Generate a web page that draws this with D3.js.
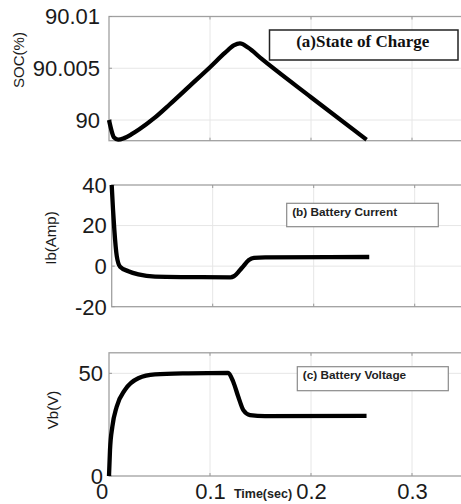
<!DOCTYPE html>
<html>
<head>
<meta charset="utf-8">
<script src="https://cdn.jsdelivr.net/npm/d3@7/dist/d3.min.js"></script>
<style>
  html, body { margin: 0; padding: 0; background: #fff; }
  svg { display: block; }
  text { font-family: "Liberation Sans", Arial, Helvetica, sans-serif; }
</style>
</head>
<body>
<script>
// ---------- data ----------
const xTicks = [0, 0.1, 0.2, 0.3];
const xTickLabels = ["0", "0.1", "0.2", "0.3"];

const socTicks = [90, 90.005, 90.01];
const socTickLabels = ["90", "90.005", "90.01"];
const socTime = [0, 0.0027, 0.005, 0.009, 0.015, 0.022, 0.03, 0.045, 0.06, 0.08, 0.1, 0.115, 0.1235, 0.1297, 0.1376, 0.1512, 0.2, 0.255];
const socVals = [90.0, 89.9989, 89.9983, 89.9981, 89.99825, 89.9986, 89.9991, 90.0002, 90.0015, 90.0033, 90.0051, 90.0065, 90.0072, 90.0074, 90.0070, 90.0059, 90.0022, 89.9981];

const ibTicks = [-20, 0, 20, 40];
const ibTickLabels = ["-20", "0", "20", "40"];
const ibTime = [0, 0.0013, 0.0026, 0.005, 0.0083, 0.0165, 0.0264, 0.043, 0.076, 0.1176, 0.121, 0.129, 0.1358, 0.1408, 0.152, 0.255];
const ibVals = [40, 28, 18, 5, -0.3, -2.5, -4.1, -5.2, -5.4, -5.5, -5, -0.8, 3, 4.1, 4.3, 4.5];

const vbTicks = [0, 50];
const vbTickLabels = ["0", "50"];
const vbTime = [0, 0.001, 0.0033, 0.0076, 0.0158, 0.029, 0.0455, 0.0785, 0.118, 0.123, 0.128, 0.133, 0.1396, 0.1545, 0.255];
const vbVals = [0, 12.7, 24, 33.7, 41.9, 47.6, 49.5, 50, 50.2, 45.9, 38.6, 32.1, 29.7, 29.2, 29.3];

const legendTexts = ["(a)State of Charge", "(b) Battery Current", "(c) Battery Voltage"];
const yLabels = ["SOC(%)", "Ib(Amp)", "Vb(V)"];
const xLabel = "Time(sec)";

// ---------- layout ----------
const W = 461, H = 504;
const svg = d3.select("body").append("svg").attr("width", W).attr("height", H);
svg.append("rect").attr("width", W).attr("height", H).attr("fill", "#fff");

const panels = [
  { left: 109, top: 16.5, bottom: 140.7, domain: [89.998, 90.01], ticks: socTicks, tickLabels: socTickLabels,
    t: socTime, v: socVals, ylab: yLabels[0], ylabX: 19, ylabY: 60, labGap: 9,
    legend: { x: 269.5, y: 30, w: 188.5, h: 30, text: legendTexts[0], serif: true } },
  { left: 111.7, top: 185, bottom: 306.7, domain: [-20, 40], ticks: ibTicks, tickLabels: ibTickLabels,
    t: ibTime, v: ibVals, ylab: yLabels[1], ylabX: 51, ylabY: 238, labGap: 5,
    legend: { x: 286.7, y: 203.3, w: 151.6, h: 23.4, text: legendTexts[1], serif: false } },
  { left: 109, top: 352.8, bottom: 476, domain: [0, 60], ticks: vbTicks, tickLabels: vbTickLabels,
    t: vbTime, v: vbVals, ylab: yLabels[2], ylabX: 53, ylabY: 410, labGap: 6,
    legend: { x: 297.3, y: 366.7, w: 151, h: 24, text: legendTexts[2], serif: false } }
];

panels.forEach((p, i) => {
  const x = d3.scaleLinear().domain([0, 0.35]).range([p.left, p.left + 3.5 * 101]);
  const y = d3.scaleLinear().domain(p.domain).range([p.bottom, p.top]);
  const g = svg.append("g");

  // grid
  g.selectAll(".gx").data(xTicks.slice(1)).enter().append("line")
    .attr("x1", d => x(d)).attr("x2", d => x(d)).attr("y1", p.top).attr("y2", p.bottom)
    .attr("stroke", "#e6e6e6").attr("stroke-width", 1);
  g.selectAll(".gy").data(p.ticks.filter(d => d > p.domain[0] && d < p.domain[1])).enter().append("line")
    .attr("x1", p.left).attr("x2", W + 5).attr("y1", d => y(d)).attr("y2", d => y(d))
    .attr("stroke", "#e6e6e6").attr("stroke-width", 1);

  // frame
  g.append("rect").attr("x", p.left).attr("y", p.top)
    .attr("width", x(0.35) - p.left).attr("height", p.bottom - p.top)
    .attr("fill", "none").attr("stroke", "#a0a0a0").attr("stroke-width", 1.3);

  // small ticks (inward)
  xTicks.slice(1).forEach(d => {
    g.append("line").attr("x1", x(d)).attr("x2", x(d)).attr("y1", p.bottom).attr("y2", p.bottom - 3).attr("stroke", "#999");
    g.append("line").attr("x1", x(d)).attr("x2", x(d)).attr("y1", p.top).attr("y2", p.top + 3).attr("stroke", "#999");
  });
  p.ticks.forEach(d => {
    g.append("line").attr("x1", p.left).attr("x2", p.left + 3).attr("y1", y(d)).attr("y2", y(d)).attr("stroke", "#999");
  });

  // y tick labels
  g.selectAll(".yl").data(p.ticks).enter().append("text")
    .attr("x", p.left - p.labGap).attr("y", d => y(d)).attr("dy", "0.36em")
    .attr("text-anchor", "end").attr("font-size", 22).attr("fill", "#1a1a1a")
    .text((d, k) => p.tickLabels[k]);

  // y axis label
  g.append("text").attr("transform", `translate(${p.ylabX},${p.ylabY}) rotate(-90)`)
    .attr("text-anchor", "middle").attr("dy", "0.35em").attr("font-size", 15).attr("fill", "#1a1a1a")
    .text(p.ylab);

  // line
  const data = p.t.map((t, k) => [t, p.v[k]]);
  const line = d3.line().x(d => x(d[0])).y(d => y(d[1])).curve(d3.curveMonotoneX);
  g.append("path").datum(data).attr("d", line)
    .attr("fill", "none").attr("stroke", "#000").attr("stroke-width", 4.3)
    .attr("stroke-linejoin", "round").attr("stroke-linecap", "butt");

  // legend box
  const L = p.legend;
  g.append("rect").attr("x", L.x).attr("y", L.y).attr("width", L.w).attr("height", L.h)
    .attr("fill", "#fff").attr("stroke", L.serif ? "#222" : "#8a8a8a").attr("stroke-width", L.serif ? 1.5 : 1.2);
  if (L.serif) {
    g.append("text").attr("x", L.x + L.w / 2 - 1).attr("y", L.y + 16.7)
      .attr("text-anchor", "middle").attr("font-size", 17).attr("font-weight", "bold")
      .style("font-family", '"Liberation Serif", "Times New Roman", serif').attr("fill", "#111")
      .text(L.text);
  } else {
    g.append("text").attr("x", L.x + 5.5).attr("y", L.y + 12.3)
      .attr("font-size", 11.8).attr("font-weight", "bold").attr("fill", "#222")
      .text(L.text);
  }

  // x tick labels only on bottom panel
  if (i === 2) {
    g.selectAll(".xl").data(xTicks).enter().append("text")
      .attr("x", d => x(d) + (d === 0 ? -7 : 0.5)).attr("y", 499)
      .attr("text-anchor", "middle").attr("font-size", 22).attr("fill", "#1a1a1a")
      .text((d, k) => xTickLabels[k]);
    g.append("text").attr("x", 263).attr("y", 497.5).attr("text-anchor", "middle")
      .attr("font-size", 12.5).attr("font-weight", "bold").attr("fill", "#222")
      .text(xLabel);
  }
});
</script>
</body>
</html>
